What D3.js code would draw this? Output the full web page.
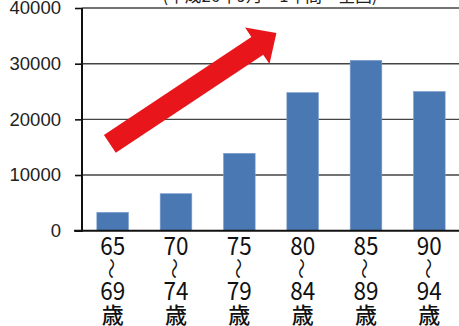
<!DOCTYPE html>
<html><head><meta charset="utf-8">
<script src="https://cdn.jsdelivr.net/npm/d3@7"></script>
<style>body{margin:0;background:#fff;}svg{display:block;}</style>
</head><body>
<svg id="c" width="459" height="326"></svg>
<script>
const ageFrom = ["65","70","75","80","85","90"];
const ageTo = ["69","74","79","84","89","94"];
const categories = ageFrom.map((a,i)=>a+"-"+ageTo[i]);
const values = [3300, 6650, 13900, 24800, 30600, 25000];
const yTicks = [0, 10000, 20000, 30000, 40000];
const titleText = "(平成26年9月～1年間・全国)";
// trend arrow, in chart units (x: category index space, y: value)
const arrowTail = {x: 0.44, y: 15600};
const arrowTip = {x: 3.07, y: 35500};

const svg = d3.select("#c");
const L = 82, R = 462, T = 8, B = 230.7;
const x = d3.scaleBand().domain(categories).range([L-1, R-1]).paddingInner(0.5).paddingOuter(0.25);
const xc = d3.scaleLinear().domain([0, categories.length]).range([L, R]);
const y = d3.scaleLinear().domain([0, 40000]).range([B, T]);

// title (clipped at top)
svg.append("text").attr("x", 270).attr("y", 2).attr("text-anchor","middle")
  .attr("font-family","Noto Sans CJK JP").attr("font-size",17).attr("fill","#222")
  .attr("textLength",215).attr("lengthAdjust","spacingAndGlyphs").text(titleText);

// gridlines
svg.append("g").selectAll("line").data(yTicks.filter(d=>d>0)).join("line")
  .attr("x1", L).attr("x2", 459).attr("y1", d=>y(d)).attr("y2", d=>y(d))
  .attr("stroke","#444").attr("stroke-width",1.4);

// bars
svg.append("g").selectAll("rect").data(values).join("rect")
  .attr("x",(d,i)=>x(categories[i])).attr("width",x.bandwidth())
  .attr("y",d=>y(d)).attr("height",d=>B-y(d))
  .attr("fill","#4a78b3").attr("stroke","#7da0cf").attr("stroke-width",0.6);

// y axis
const ya = d3.axisLeft(y).tickValues(yTicks).tickSize(7).tickFormat(d3.format("d"));
const yg = svg.append("g").attr("transform",`translate(${L},0)`).call(ya);
yg.select(".domain").remove();
yg.selectAll(".tick line").attr("stroke","#111").attr("stroke-width",1.6);
yg.selectAll(".tick text").attr("x",-21).attr("font-family","Liberation Sans, Arial, sans-serif")
  .attr("font-size",18.5).attr("fill","#222");
svg.append("line").attr("x1",L).attr("x2",L).attr("y1",T).attr("y2",B+1)
  .attr("stroke","#111").attr("stroke-width",2);
svg.append("line").attr("x1",74).attr("x2",459).attr("y1",B).attr("y2",B)
  .attr("stroke","#111").attr("stroke-width",2);

// x labels
const lab = svg.append("g").selectAll("g").data(categories).join("g")
  .attr("transform",d=>`translate(${x(d)+x.bandwidth()/2},0)`);
const tf = "Noto Sans CJK JP";
lab.append("text").attr("transform","translate(0,255) scale(0.9,1)").attr("text-anchor","middle").attr("font-family",tf)
  .attr("font-size",25).attr("fill","#111").text((d,i)=>ageFrom[i]);
lab.append("text").attr("transform","translate(0,268.5) rotate(90) scale(1,0.8)").attr("text-anchor","middle")
  .attr("dominant-baseline","central").attr("font-family",tf).attr("font-size",21)
  .attr("fill","#111").text("〜");
lab.append("text").attr("transform","translate(0,300) scale(0.9,1)").attr("text-anchor","middle").attr("font-family",tf)
  .attr("font-size",25).attr("fill","#111").text((d,i)=>ageTo[i]);
lab.append("text").attr("y",323).attr("text-anchor","middle").attr("font-family",tf)
  .attr("font-size",22).attr("font-weight",500).attr("fill","#111").text("歳");

// arrow
const p0 = [xc(arrowTail.x), y(arrowTail.y)], p1 = [xc(arrowTip.x), y(arrowTip.y)];
const dx = p1[0]-p0[0], dy = p1[1]-p0[1], len = Math.hypot(dx,dy);
const u = [dx/len, dy/len], n = [-u[1], u[0]];
const hw = 10.7, hh = 22, hl = 23;
const base = [p1[0]-u[0]*hl, p1[1]-u[1]*hl];
const pt = (p,k)=>[p[0]+n[0]*k, p[1]+n[1]*k];
const poly = [pt(p0,hw), pt(base,hw), pt(base,hh), p1, pt(base,-hh), pt(base,-hw), pt(p0,-hw)];
svg.append("polygon").attr("points", poly.map(p=>p.join(",")).join(" ")).attr("fill","#e8151b");
</script>
</body></html>
